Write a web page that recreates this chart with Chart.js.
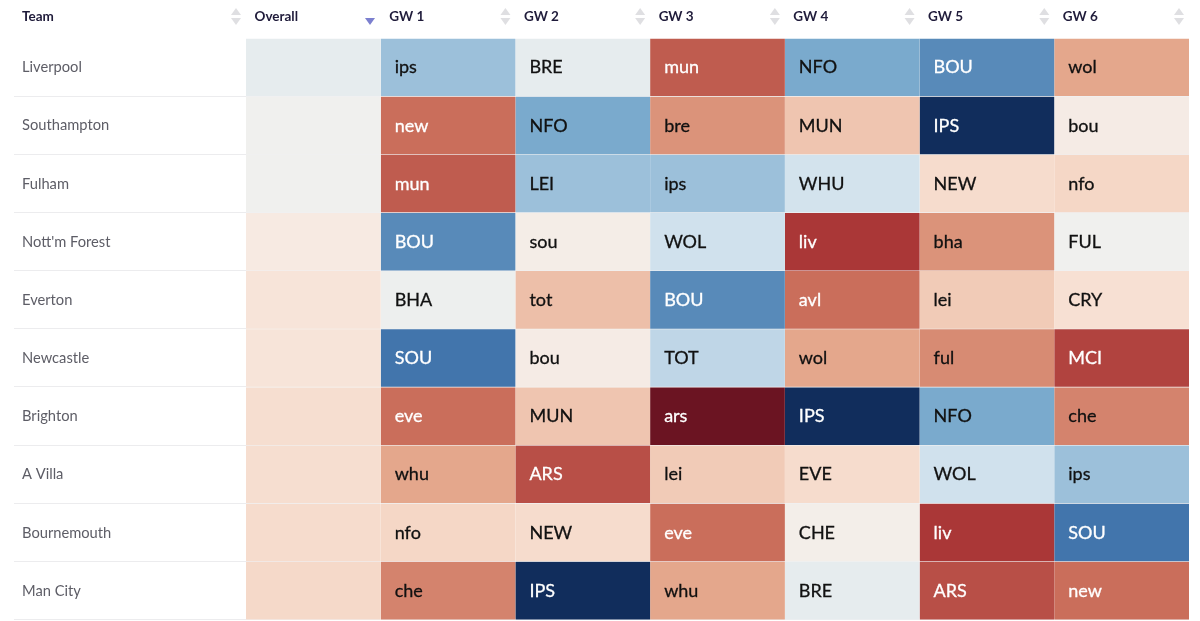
<!DOCTYPE html>
<html>
<head>
<meta charset="utf-8">
<style>
  html, body { margin: 0; padding: 0; background: #fff; }
  canvas { display: block; }
</style>
<script src="https://cdn.jsdelivr.net/npm/chart.js@4"></script>
</head>
<body>
<canvas id="fixtureChart" width="1200" height="621"></canvas>
<script>
const teams = ['Liverpool', 'Southampton', 'Fulham', "Nott'm Forest", 'Everton', 'Newcastle', 'Brighton', 'A Villa', 'Bournemouth', 'Man City'];
const columns = ['Overall', 'GW 1', 'GW 2', 'GW 3', 'GW 4', 'GW 5', 'GW 6'];

const overall = [5.3, 5.0, 5.0, 4.75, 4.6, 4.6, 4.45, 4.45, 4.4, 4.35];

const gw1 = ['ips', 'new', 'mun', 'BOU', 'BHA', 'SOU', 'eve', 'whu', 'nfo', 'che'];
const gw2 = ['BRE', 'NFO', 'LEI', 'sou', 'tot', 'bou', 'MUN', 'ARS', 'NEW', 'IPS'];
const gw3 = ['mun', 'bre', 'ips', 'WOL', 'BOU', 'TOT', 'ars', 'lei', 'eve', 'whu'];
const gw4 = ['NFO', 'MUN', 'WHU', 'liv', 'avl', 'wol', 'IPS', 'EVE', 'CHE', 'BRE'];
const gw5 = ['BOU', 'IPS', 'NEW', 'bha', 'lei', 'ful', 'NFO', 'WOL', 'liv', 'ARS'];
const gw6 = ['wol', 'bou', 'nfo', 'FUL', 'CRY', 'MCI', 'che', 'ips', 'SOU', 'new'];

const gw1Scores = [6.6, 2.4, 2.1, 7.6, 5.1, 8.0, 2.4, 3.5, 4.3, 2.8];
const gw2Scores = [5.3, 7.0, 6.6, 4.85, 3.9, 4.8, 4.0, 1.9, 4.4, 10];
const gw3Scores = [2.1, 3.1, 6.6, 6.0, 7.6, 6.2, 0, 4.1, 2.4, 3.5];
const gw4Scores = [7.0, 4.0, 5.9, 1.5, 2.4, 3.5, 10, 4.4, 4.9, 5.3];
const gw5Scores = [7.6, 10, 4.4, 3.1, 4.1, 2.95, 7.0, 6.0, 1.5, 1.9];
const gw6Scores = [3.5, 4.8, 4.3, 5.0, 4.5, 1.7, 2.8, 6.6, 8.0, 2.4];

const scoreStops = [0, 1.5, 2.5, 3.5, 4.3, 4.7, 5, 6, 7, 8, 10];
const stopColors = [[107, 20, 34], [170, 55, 55], [205, 116, 95], [228, 167, 140], [245, 215, 198], [248, 233, 224], [240, 240, 238], [208, 225, 237], [122, 170, 205], [66, 117, 172], [17, 45, 92]];

const fixtures = [null, gw1, gw2, gw3, gw4, gw5, gw6];
const scores = [overall, gw1Scores, gw2Scores, gw3Scores, gw4Scores, gw5Scores, gw6Scores];

const FONT = 'Lato, sans-serif';

function scoreColor(score) {
  let i = 0;
  while (i < scoreStops.length - 2 && score > scoreStops[i + 1]) i++;
  const t = (score - scoreStops[i]) / (scoreStops[i + 1] - scoreStops[i]);
  const a = stopColors[i], b = stopColors[i + 1];
  return 'rgb(' + a.map((c, k) => Math.round(c + (b[k] - c) * t)).join(',') + ')';
}

function textColor(score) {
  return (score < 2.6 || score > 7.3) ? '#fff' : '#111';
}

function sortArrow(ctx, x, y, dir, color) {
  ctx.fillStyle = color;
  ctx.beginPath();
  ctx.moveTo(x - 5, y);
  ctx.lineTo(x + 5, y);
  ctx.lineTo(x, y + dir * 7);
  ctx.closePath();
  ctx.fill();
}

// team header, sort arrows, row rules and the fixture names in the cells
const tablePlugin = {
  id: 'tablePlugin',
  afterDatasetsDraw(chart) {
    const ctx = chart.ctx;
    const xs = chart.scales.x;
    const meta0 = chart.getDatasetMeta(0);
    ctx.save();

    ctx.strokeStyle = '#ececee';
    ctx.lineWidth = 1;
    meta0.data.forEach(bar => {
      const y = Math.round(bar.y + bar.height / 2) - 0.5;
      ctx.beginPath();
      ctx.moveTo(14, y);
      ctx.lineTo(xs.left, y);
      ctx.stroke();
    });

    ctx.font = 'bold 13.5px ' + FONT;
    ctx.fillStyle = '#1f1b3a';
    ctx.textAlign = 'left';
    ctx.textBaseline = 'middle';
    ctx.fillText('Team', 22, 17);

    sortArrow(ctx, 236, 15, -1, '#dfdfe2');
    sortArrow(ctx, 236, 18, 1, '#dfdfe2');
    sortArrow(ctx, 370, 18, 1, '#7c80cf');
    for (let c = 1; c < columns.length; c++) {
      const x = xs.getPixelForValue(c + 1) - 10;
      sortArrow(ctx, x, 15, -1, '#dfdfe2');
      sortArrow(ctx, x, 18, 1, '#dfdfe2');
    }

    ctx.font = '18px ' + FONT;
    ctx.lineWidth = 0.3;
    fixtures.forEach((names, c) => {
      if (!names) return;
      const meta = chart.getDatasetMeta(c);
      names.forEach((name, r) => {
        const bar = meta.data[r];
        ctx.fillStyle = ctx.strokeStyle = textColor(scores[c][r]);
        ctx.fillText(name, bar.base + 14, bar.y);
        ctx.strokeText(name, bar.base + 14, bar.y);
      });
    });
    ctx.restore();
  }
};

const ctx = document.getElementById('fixtureChart').getContext('2d');
new Chart(ctx, {
  type: 'bar',
  data: {
    labels: teams,
    datasets: columns.map((name, c) => ({
      label: name,
      data: teams.map(() => [c, c + 1]),
      backgroundColor: scores[c].map(scoreColor),
      borderColor: '#f1f1f2',
      borderWidth: { top: 0, left: 0, right: 0, bottom: 1 },
      borderSkipped: false,
      inflateAmount: 0.4,
      barPercentage: 1,
      categoryPercentage: 1,
      grouped: false
    }))
  },
  options: {
    indexAxis: 'y',
    responsive: false,
    animation: false,
    layout: { padding: { left: 22, right: 11, top: 0, bottom: 1 } },
    plugins: { legend: { display: false }, tooltip: { enabled: false } },
    scales: {
      x: {
        position: 'top',
        min: 0,
        max: columns.length,
        afterFit(scale) {
          scale.height = 38.5;
          scale.paddingLeft = 0;
          scale.paddingRight = 0;
        },
        grid: { display: false, drawTicks: false },
        border: { display: false },
        ticks: {
          stepSize: 1,
          autoSkip: false,
          maxRotation: 0,
          align: 'start',
          labelOffset: 8.5,
          padding: 14,
          color: '#1f1b3a',
          font: { family: FONT, size: 13.5, weight: 'bold' },
          callback(value) { return columns[value] || ''; }
        }
      },
      y: {
        afterFit(scale) {
          scale.width = 224;
          scale.paddingTop = 0;
          scale.paddingBottom = 0;
        },
        grid: { display: false, drawTicks: false },
        border: { display: false },
        ticks: {
          crossAlign: 'far',
          autoSkip: false,
          color: '#5d5d66',
          font: { family: FONT, size: 14.7 }
        }
      }
    }
  },
  plugins: [tablePlugin]
});
</script>
</body>
</html>
